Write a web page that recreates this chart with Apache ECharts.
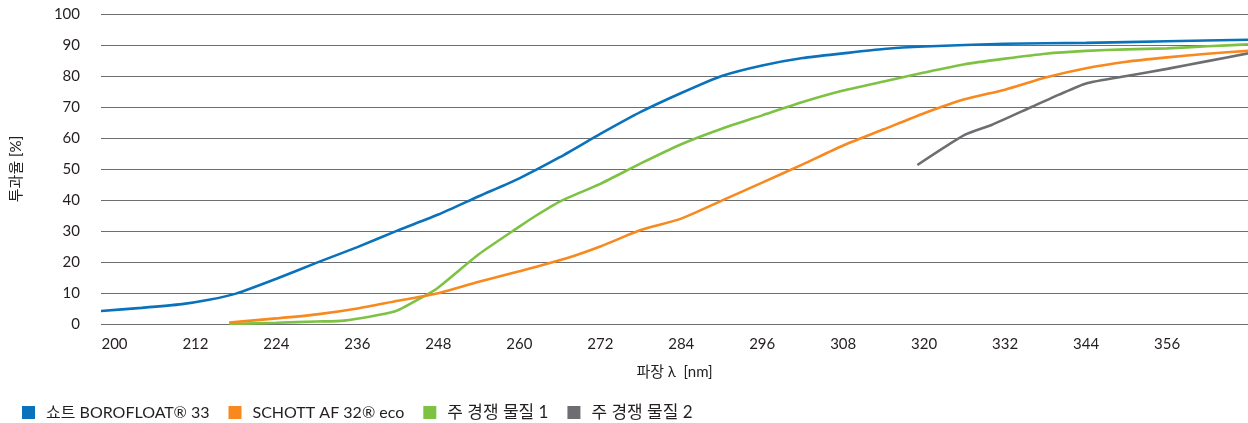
<!DOCTYPE html>
<html>
<head>
<meta charset="utf-8">
<script src="https://cdn.jsdelivr.net/npm/echarts@6/dist/echarts.min.js"></script>
<style>
html,body{margin:0;padding:0;background:#fff;}
#c{width:1248px;height:423px;}
</style>
</head>
<body>
<div id="c"></div>
<script>
// ---- data ----
const seriesNames = ['쇼트 BOROFLOAT® 33', 'SCHOTT AF 32® eco', '주 경쟁 물질 1', '주 경쟁 물질 2'];
const xTicks = [200, 212, 224, 236, 248, 260, 272, 284, 296, 308, 320, 332, 344, 356];

const borofloatNm = [198, 204, 210, 214, 218, 224, 230, 236, 242, 248, 254, 260, 266, 272, 278, 284, 290, 296, 302, 308, 314, 320, 332, 344, 356, 368];
const borofloatT  = [4.2, 5.2, 6.4, 7.8, 9.8, 14.6, 19.8, 24.8, 30.2, 35.3, 41.2, 47.0, 53.8, 61.3, 68.4, 74.5, 80.0, 83.4, 85.8, 87.3, 88.7, 89.5, 90.4, 90.7, 91.2, 91.7];

const af32Nm = [217, 224, 230, 236, 242, 248, 254, 260, 267, 272, 278, 284, 290, 296, 302, 308, 314, 320, 326, 332, 338, 344, 350, 356, 362, 368];
const af32T  = [0.5, 1.8, 3.1, 5.0, 7.5, 9.9, 13.6, 17.0, 21.2, 25.0, 30.3, 34.0, 39.8, 45.6, 51.5, 57.6, 62.8, 68.0, 72.5, 75.6, 79.5, 82.5, 84.6, 86.0, 87.2, 88.1];

const comp1Nm = [217, 224, 230, 234, 241.5, 245.5, 248, 254, 260, 262.5, 266, 272, 278, 284, 290, 296, 302, 308, 314, 320, 326, 332, 338, 344, 350, 356, 362, 368];
const comp1T  = [0.0, 0.4, 0.8, 1.1, 4.0, 8.5, 11.8, 22.5, 31.4, 35.0, 39.5, 45.2, 51.8, 58.0, 63.0, 67.3, 71.6, 75.3, 78.2, 81.1, 83.8, 85.6, 87.2, 88.1, 88.6, 88.9, 89.6, 90.2];

const comp2Nm = [319, 326, 330, 336, 340, 344, 350, 356, 362, 368];
const comp2T  = [51.3, 61.0, 64.2, 70.1, 74.0, 77.6, 80.0, 82.3, 84.8, 87.3];

const colors = ['#0a72bb', '#f7891f', '#7dc242', '#6d6e71'];

function pairs(xs, ys) { return xs.map((x, i) => [x, ys[i]]); }
const seriesData = [
  pairs(borofloatNm, borofloatT),
  pairs(af32Nm, af32T),
  pairs(comp1Nm, comp1T),
  pairs(comp2Nm, comp2T)
];

const FONT = "Lato, 'Noto Sans CJK KR', sans-serif";
const TXT = '#231f20';

const chart = echarts.init(document.getElementById('c'), null, {renderer: 'canvas'});
chart.setOption({
  animation: false,
  color: colors,
  textStyle: {fontFamily: FONT},
  grid: {left: 101, right: 0, top: 14, bottom: 99, containLabel: false},
  legend: {
    left: 17, top: 399,
    itemWidth: 13, itemHeight: 13, itemGap: 19,
    icon: 'rect',
    textStyle: {fontFamily: FONT, fontSize: 16, color: TXT, padding: [0, 0, 0, 6]},
    data: seriesNames.map((n, i) => i < 2 ? {name: n} : {name: n, textStyle: {fontSize: 17}})
  },
  xAxis: {
    type: 'value',
    min: 198, max: 368,
    name: '파장 λ  [nm]',
    nameLocation: 'middle',
    nameGap: 41,
    nameTextStyle: {fontFamily: FONT, fontSize: 15, color: TXT},
    axisLine: {show: false},
    axisTick: {show: false},
    splitLine: {show: false},
    axisLabel: {
      customValues: xTicks,
      margin: 13,
      fontFamily: FONT, fontSize: 15, color: TXT
    }
  },
  yAxis: {
    type: 'value',
    min: 0, max: 100, interval: 10,
    name: '투과율 [%]',
    nameLocation: 'middle',
    nameGap: 77,
    nameRotate: 90,
    nameTextStyle: {fontFamily: FONT, fontSize: 15, color: TXT},
    axisLine: {show: false},
    axisTick: {show: false},
    axisLabel: {margin: 21, fontFamily: FONT, fontSize: 15, color: TXT},
    splitLine: {lineStyle: {color: '#6d6e71', width: 1.2}}
  },
  series: seriesNames.map((n, i) => ({
    name: n,
    type: 'line',
    data: seriesData[i],
    showSymbol: false,
    symbol: 'none',
    smooth: 0.2,
    lineStyle: {width: 2.6, color: colors[i]},
    itemStyle: {color: colors[i]},
    z: 4 - i
  }))
});
</script>
</body>
</html>
